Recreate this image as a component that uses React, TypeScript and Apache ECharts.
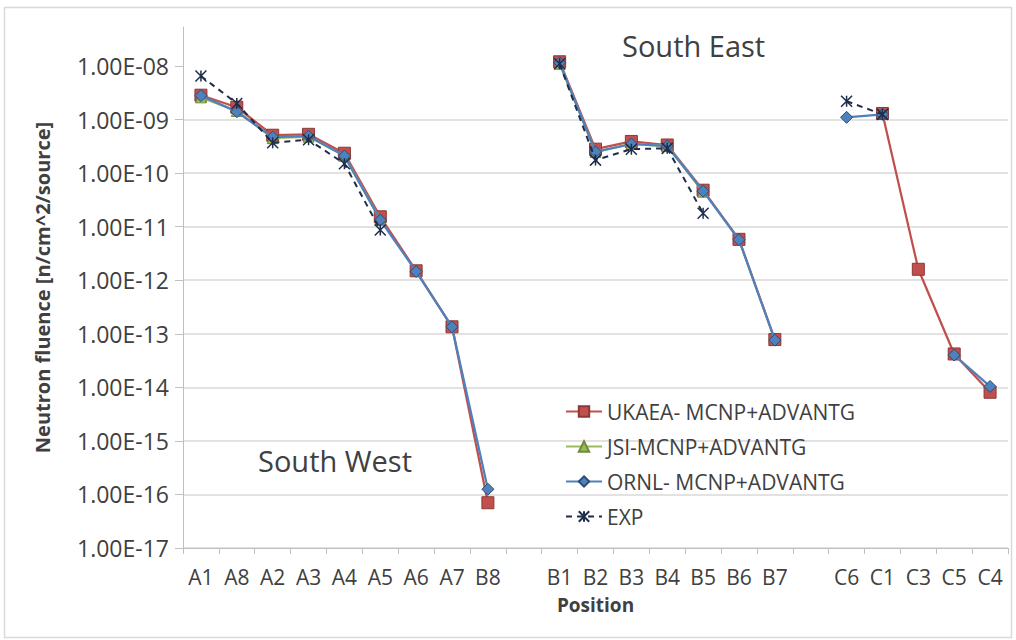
import React, { useEffect, useRef } from "react";
import * as echarts from "echarts";

const categories = ["A1", "A8", "A2", "A3", "A4", "A5", "A6", "A7", "B8", "", "B1", "B2", "B3", "B4", "B5", "B6", "B7", "", "C6", "C1", "C3", "C5", "C4"];

const ukaea = [2.85e-9, 1.7e-9, 5.1e-10, 5.3e-10, 2.35e-10, 1.53e-11, 1.5e-12, 1.35e-13, 7.0e-17, null, 1.2e-8, 2.8e-10, 3.9e-10, 3.35e-10, 4.8e-11, 5.8e-12, 7.8e-14, null, null, 1.3e-9, 1.6e-12, 4.2e-14, 8.1e-15];
const jsi = [2.6e-9, 1.45e-9, 4.5e-10, 4.8e-10, 2.1e-10, 1.35e-11, null, null, null, null, 1.1e-8, 2.5e-10, 3.5e-10, 3.2e-10, 4.5e-11, null, null, null, null, null, null, null, null];
const ornl = [2.8e-9, 1.4e-9, 4.7e-10, 4.9e-10, 2.1e-10, 1.33e-11, 1.45e-12, 1.35e-13, 1.25e-16, null, 1.15e-8, 2.5e-10, 3.5e-10, 3.2e-10, 4.6e-11, 5.7e-12, 7.6e-14, null, 1.1e-9, 1.25e-9, null, 4.0e-14, 1.04e-14];
const expData = [6.5e-9, 2.0e-9, 3.7e-10, 4.2e-10, 1.5e-10, 8.7e-12, null, null, null, null, 1.1e-8, 1.75e-10, 2.8e-10, 2.9e-10, 1.78e-11, null, null, null, 2.2e-9, 1.25e-9, null, null, null];

const yTicks = [1e-17, 1e-16, 1e-15, 1e-14, 1e-13, 1e-12, 1e-11, 1e-10, 1e-9, 1e-8];

const seriesNames = ["UKAEA- MCNP+ADVANTG", "JSI-MCNP+ADVANTG", "ORNL- MCNP+ADVANTG", "EXP"];

const FONT = "'Open Sans'";
const TEXT = "#404040";

function fmt(v: number): string {
  const e = Math.log10(v);
  const r = Math.round(e);
  if (Math.abs(e - r) > 1e-6) return "";
  return "1.00E" + (r < 0 ? "-" : "+") + String(Math.abs(r)).padStart(2, "0");
}

export default function App() {
  const ref = useRef<HTMLDivElement>(null);
  useEffect(() => {
    if (!ref.current) return;
    const chart = echarts.init(ref.current, null, { renderer: "svg" });
    const starPath = "path://M0,0L10,10M10,0L0,10M5,0L5,10";
    chart.setOption({
      animation: false,
      backgroundColor: "#ffffff",
      grid: { left: 183, top: 27, right: 8, bottom: 92, containLabel: false },
      graphic: [
        {
          type: "rect",
          shape: { x: 4.5, y: 7.5, width: 1007, height: 630 },
          style: { fill: "none", stroke: "#d9d9d9", lineWidth: 1.5 },
          silent: true,
          z: -10,
        },
        {
          type: "text",
          left: 258,
          top: 446,
          style: { text: "South West", font: `29px ${FONT}`, fill: TEXT },
        },
        {
          type: "text",
          left: 622,
          top: 31,
          style: { text: "South East", font: `29px ${FONT}`, fill: TEXT },
        },
      ],
      legend: {
        orient: "vertical",
        left: 560,
        top: 396,
        itemWidth: 36,
        itemHeight: 13,
        itemGap: 14,
        data: seriesNames,
        textStyle: { fontFamily: FONT, fontSize: 21, color: TEXT },
      },
      xAxis: {
        type: "category",
        data: categories,
        boundaryGap: true,
        name: "Position",
        nameLocation: "middle",
        nameGap: 47,
        nameTextStyle: { fontFamily: FONT, fontSize: 19, fontWeight: "bold", color: TEXT },
        axisLine: { lineStyle: { color: "#bfbfbf", width: 1 } },
        axisTick: { show: true, interval: 0, length: 6, lineStyle: { color: "#bfbfbf" } },
        axisLabel: { interval: 0, margin: 18, fontFamily: FONT, fontSize: 21, color: TEXT },
        splitLine: { show: false },
      },
      yAxis: {
        type: "log",
        logBase: 10,
        min: 1e-17,
        max: 5.35e-8,
        name: "Neutron fluence [n/cm^2/source]",
        nameLocation: "middle",
        nameRotate: 90,
        nameGap: 131,
        nameTextStyle: { fontFamily: FONT, fontSize: 20, fontWeight: "bold", color: TEXT },
        axisLine: { show: true, lineStyle: { color: "#bfbfbf", width: 1 } },
        axisTick: { show: true, inside: false, length: 8, customValues: yTicks, lineStyle: { color: "#bfbfbf" } },
        axisLabel: {
          margin: 14,
          fontFamily: FONT,
          fontSize: 23,
          color: TEXT,
          customValues: yTicks,
          formatter: (v: number) => fmt(v),
        },
        splitLine: { show: true, showMaxLine: false, lineStyle: { color: "#d9d9d9", width: 1.5 } },
      },
      series: [
        {
          name: seriesNames[0],
          type: "line",
          data: ukaea,
          connectNulls: false,
          symbol: "rect",
          symbolSize: 12,
          lineStyle: { color: "#C0504D", width: 2.25 },
          itemStyle: { color: "#C0504D", borderColor: "#8C3836", borderWidth: 1 },
          z: 2,
        },
        {
          name: seriesNames[1],
          type: "line",
          data: jsi,
          connectNulls: false,
          symbol: "triangle",
          symbolSize: 11,
          lineStyle: { color: "#9BBB59", width: 2.25 },
          itemStyle: { color: "#9BBB59", borderColor: "#71893F", borderWidth: 1 },
          z: 3,
        },
        {
          name: seriesNames[2],
          type: "line",
          data: ornl,
          connectNulls: false,
          symbol: "diamond",
          symbolSize: 12,
          lineStyle: { color: "#4F81BD", width: 2.25 },
          itemStyle: { color: "#4F81BD", borderColor: "#2C4D75", borderWidth: 1 },
          z: 4,
        },
        {
          name: seriesNames[3],
          type: "line",
          data: expData,
          connectNulls: false,
          symbol: starPath,
          symbolSize: 11,
          lineStyle: { color: "#1F2D4A", width: 2, type: [6, 5] },
          itemStyle: { color: "#1F2D4A", borderColor: "#1F2D4A", borderWidth: 1.5 },
          z: 5,
        },
      ],
    });
    return () => chart.dispose();
  }, []);
  return (
    <div
      ref={ref}
      style={{ position: "fixed", left: 0, top: 0, width: 1016, height: 640 }}
    />
  );
}
